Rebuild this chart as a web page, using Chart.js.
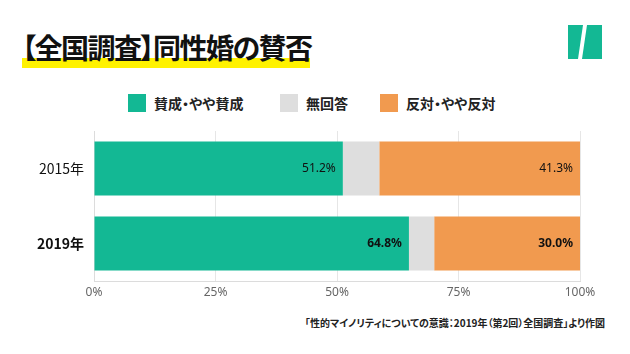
<!DOCTYPE html>
<html><head><meta charset="utf-8">
<script src="https://cdn.jsdelivr.net/npm/chart.js@4"></script>
<style>
html,body{margin:0;padding:0;background:#fff;width:630px;height:354px;overflow:hidden;font-family:"Noto Sans CJK JP","Noto Sans",sans-serif;}
#title{position:absolute;left:22px;top:27px;font-size:28px;font-weight:bold;letter-spacing:-1.5px;color:#111;white-space:nowrap;z-index:2;font-feature-settings:"palt";}
#hl{position:absolute;left:22px;top:58px;width:288px;height:10px;background:#fff200;z-index:1;}
#logo{position:absolute;left:568px;top:25px;width:34px;height:34px;z-index:1;}
.leg{position:absolute;top:93px;font-size:14px;font-weight:bold;color:#222;white-space:nowrap;display:flex;align-items:center;font-feature-settings:"palt";}
.sw{display:inline-block;width:18px;height:18px;margin-right:8px;}
#src{position:absolute;right:25px;top:315px;font-size:10px;font-weight:bold;color:#222;white-space:nowrap;font-feature-settings:"palt";}
#wrap{position:absolute;left:0;top:120px;width:630px;height:190px;}
</style></head><body>
<div id="hl"></div>
<div id="title">【全国調査】同性婚の賛否</div>
<svg id="logo" viewBox="0 0 34 34"><polygon points="0,0 15,0 10,34 0,34" fill="#13b894"/><polygon points="19,0 34,0 34,34 14,34" fill="#13b894"/></svg>
<div class="leg" style="left:128px"><span class="sw" style="background:#13b894"></span>賛成・やや賛成</div>
<div class="leg" style="left:280px"><span class="sw" style="background:#dedede"></span>無回答</div>
<div class="leg" style="left:380px"><span class="sw" style="background:#f19a4f"></span>反対・やや反対</div>
<div id="src">「性的マイノリティについての意識：2019年（第2回）全国調査」より作図</div>
<div id="wrap"><canvas id="c" width="630" height="190"></canvas></div>
<script>
const categories = ["2015年", "2019年"];
const seriesNames = ["賛成・やや賛成", "無回答", "反対・やや反対"];
const agree = [51.2, 64.8];
const noAnswer = [7.5, 5.2];
const disagree = [41.3, 30.0];
const xTicks = [0, 25, 50, 75, 100];
const colors = ["#13b894", "#dedede", "#f19a4f"];

const labelPlugin = {
  id: 'segLabels',
  afterDatasetsDraw(chart) {
    const ctx = chart.ctx;
    [0, 2].forEach(di => {
      const meta = chart.getDatasetMeta(di);
      meta.data.forEach((bar, i) => {
        const v = chart.data.datasets[di].data[i];
        ctx.save();
        ctx.font = (i === 1 ? 'bold 12px' : '12px') + ' "Noto Sans", "DejaVu Sans", sans-serif';
        ctx.fillStyle = '#111';
        ctx.textAlign = 'right';
        ctx.textBaseline = 'middle';
        ctx.fillText(v.toFixed(1) + '%', bar.x - 7, bar.y);
        ctx.restore();
      });
    });
  }
};

new Chart(document.getElementById('c'), {
  type: 'bar',
  data: {
    labels: categories,
    datasets: [
      { label: seriesNames[0], data: agree, backgroundColor: colors[0] },
      { label: seriesNames[1], data: noAnswer, backgroundColor: colors[1] },
      { label: seriesNames[2], data: disagree, backgroundColor: colors[2] }
    ]
  },
  options: {
    indexAxis: 'y',
    responsive: false,
    animation: false,
    maintainAspectRatio: false,
    layout: { padding: { top: 11, right: 50, left: 0, bottom: 0 } },
    datasets: { bar: { categoryPercentage: 1, barPercentage: 0.72 } },
    plugins: { legend: { display: false }, tooltip: { enabled: false } },
    scales: {
      x: {
        stacked: true, min: 0, max: 100,
        afterBuildTicks: s => { s.ticks = xTicks.map(v => ({ value: v })); },
        afterFit: s => { s.height = 29; s.paddingLeft = 0; s.paddingRight = 0; },
        grid: { color: '#e6e6e6', drawTicks: false },
        border: { color: '#dcdcdc' },
        ticks: { padding: 4, color: '#666', font: { size: 12, family: '"Noto Sans", "DejaVu Sans", sans-serif' }, callback: v => v + '%' }
      },
      y: {
        stacked: true,
        afterFit: s => { s.width = 94; s.paddingTop = 0; s.paddingBottom = 0; },
        grid: { display: false, drawTicks: false },
        border: { color: '#dcdcdc' },
        ticks: {
          padding: 10, color: '#111',
          font: ctx => ({ size: 14, weight: ctx.index === 1 ? 'bold' : 'normal', family: '"Noto Sans CJK JP", "Noto Sans", sans-serif' })
        }
      }
    }
  },
  plugins: [labelPlugin]
});
</script>
</body></html>
